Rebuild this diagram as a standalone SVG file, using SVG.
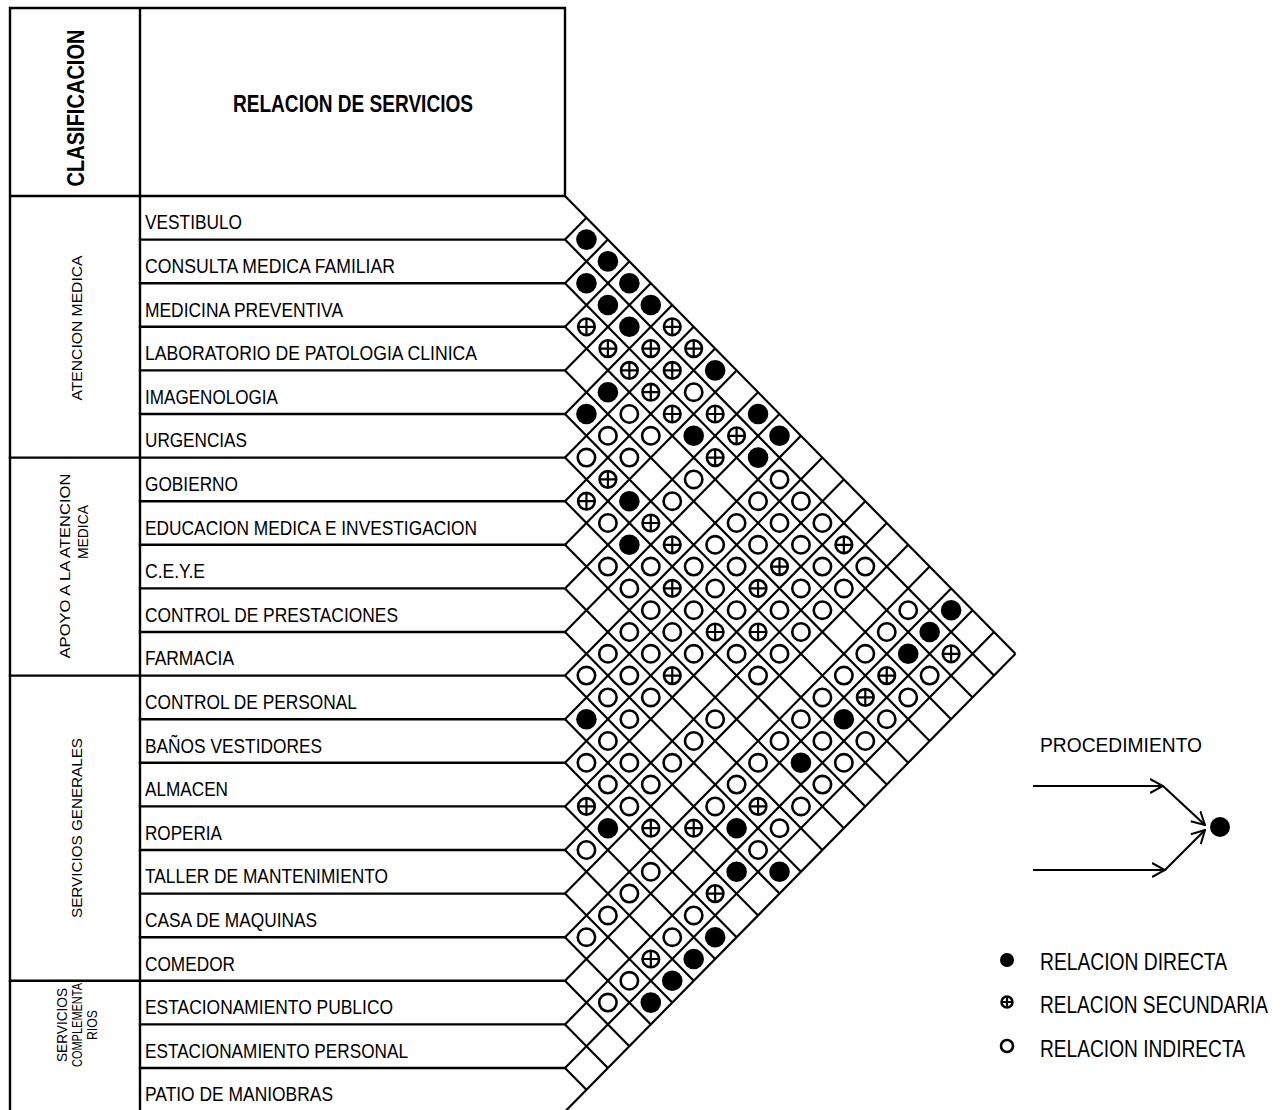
<svg xmlns="http://www.w3.org/2000/svg" xmlns:xlink="http://www.w3.org/1999/xlink" width="1286" height="1110" viewBox="0 0 1286 1110">
<style>
.ln{stroke:#000;stroke-width:2.4;fill:none;stroke-linecap:square}
.gd{stroke:#000;stroke-width:2.2;fill:none}
.t{font-family:"Liberation Sans",Arial,sans-serif;font-size:21px;fill:#000}
.tb{font-family:"Liberation Sans",Arial,sans-serif;font-size:23px;font-weight:bold;fill:#000}
.ts{font-family:"Liberation Sans",Arial,sans-serif;font-size:15px;fill:#000}
.tl{font-family:"Liberation Sans",Arial,sans-serif;font-size:20px;fill:#000}
.ar{stroke:#000;stroke-width:2.2;fill:none}
</style>
<defs>
<g id="sB"><circle r="10.3" fill="#000"/></g>
<g id="sO"><circle r="8.7" fill="#fff" stroke="#000" stroke-width="2.6"/></g>
<g id="sP"><circle r="8.3" fill="#fff" stroke="#000" stroke-width="2.6"/><path d="M-8.3,0H8.3M0,-8.3V8.3" stroke="#000" stroke-width="2.2"/></g>
<marker id="ah" viewBox="0 0 14 16" refX="13" refY="8" markerWidth="14" markerHeight="16" markerUnits="userSpaceOnUse" orient="auto"><path d="M0,1 L13,8 L0,15" fill="none" stroke="#000" stroke-width="2"/></marker>
</defs>
<rect width="1286" height="1110" fill="#fff"/>

<g id="table">
<path class="ln" d="M10,8H565V196M10,8V1112M140,8V1112M10,196H565"/>
<path class="ln" d="M140,239.6H565M140,283.2H565M140,326.8H565M140,370.4H565M140,414H565M10,457.6H565M140,501.2H565M140,544.8H565M140,588.4H565M140,632H565M10,675.6H565M140,719.2H565M140,762.8H565M140,806.4H565M140,850H565M140,893.6H565M140,937.2H565M10,980.8H565M140,1024.4H565M140,1068H565"/>
</g>

<g id="header">
<text class="tb" transform="translate(84,108) rotate(-90)" text-anchor="middle" textLength="157" lengthAdjust="spacingAndGlyphs">CLASIFICACION</text>
<text class="tb" x="353" y="112" text-anchor="middle" textLength="240" lengthAdjust="spacingAndGlyphs">RELACION DE SERVICIOS</text>
</g>

<g id="sections">
<text class="ts" transform="translate(82,328) rotate(-90)" text-anchor="middle" textLength="145" lengthAdjust="spacingAndGlyphs">ATENCION MEDICA</text>
<text class="ts" transform="translate(70,566) rotate(-90)" text-anchor="middle" textLength="185" lengthAdjust="spacingAndGlyphs">APOYO A LA ATENCION</text>
<text class="ts" transform="translate(88,532) rotate(-90)" text-anchor="middle" textLength="54" lengthAdjust="spacingAndGlyphs">MEDICA</text>
<text class="ts" transform="translate(82,828) rotate(-90)" text-anchor="middle" textLength="180" lengthAdjust="spacingAndGlyphs">SERVICIOS GENERALES</text>
<text class="ts" transform="translate(67,1025) rotate(-90)" text-anchor="middle" textLength="74" lengthAdjust="spacingAndGlyphs">SERVICIOS</text>
<text class="ts" transform="translate(82,1025) rotate(-90)" text-anchor="middle" textLength="84" lengthAdjust="spacingAndGlyphs">COMPLEMENTA</text>
<text class="ts" transform="translate(97,1025) rotate(-90)" text-anchor="middle" textLength="30" lengthAdjust="spacingAndGlyphs">RIOS</text>
</g>

<g id="rows">
<g id="r0"><text class="t" x="145" y="229.3" textLength="97" lengthAdjust="spacingAndGlyphs">VESTIBULO</text></g>
<g id="r1"><text class="t" x="145" y="272.9" textLength="250" lengthAdjust="spacingAndGlyphs">CONSULTA MEDICA FAMILIAR</text></g>
<g id="r2"><text class="t" x="145" y="316.5" textLength="198" lengthAdjust="spacingAndGlyphs">MEDICINA PREVENTIVA</text></g>
<g id="r3"><text class="t" x="145" y="360.1" textLength="332" lengthAdjust="spacingAndGlyphs">LABORATORIO DE PATOLOGIA CLINICA</text></g>
<g id="r4"><text class="t" x="145" y="403.7" textLength="133" lengthAdjust="spacingAndGlyphs">IMAGENOLOGIA</text></g>
<g id="r5"><text class="t" x="145" y="447.3" textLength="102" lengthAdjust="spacingAndGlyphs">URGENCIAS</text></g>
<g id="r6"><text class="t" x="145" y="490.9" textLength="93" lengthAdjust="spacingAndGlyphs">GOBIERNO</text></g>
<g id="r7"><text class="t" x="145" y="534.5" textLength="332" lengthAdjust="spacingAndGlyphs">EDUCACION MEDICA E INVESTIGACION</text></g>
<g id="r8"><text class="t" x="145" y="578.1" textLength="60" lengthAdjust="spacingAndGlyphs">C.E.Y.E</text></g>
<g id="r9"><text class="t" x="145" y="621.7" textLength="253" lengthAdjust="spacingAndGlyphs">CONTROL DE PRESTACIONES</text></g>
<g id="r10"><text class="t" x="145" y="665.3" textLength="89" lengthAdjust="spacingAndGlyphs">FARMACIA</text></g>
<g id="r11"><text class="t" x="145" y="708.9" textLength="212" lengthAdjust="spacingAndGlyphs">CONTROL DE PERSONAL</text></g>
<g id="r12"><text class="t" x="145" y="752.5" textLength="177" lengthAdjust="spacingAndGlyphs">BAÑOS VESTIDORES</text></g>
<g id="r13"><text class="t" x="145" y="796.1" textLength="83" lengthAdjust="spacingAndGlyphs">ALMACEN</text></g>
<g id="r14"><text class="t" x="145" y="839.7" textLength="77" lengthAdjust="spacingAndGlyphs">ROPERIA</text></g>
<g id="r15"><text class="t" x="145" y="883.3" textLength="243" lengthAdjust="spacingAndGlyphs">TALLER DE MANTENIMIENTO</text></g>
<g id="r16"><text class="t" x="145" y="926.9" textLength="172" lengthAdjust="spacingAndGlyphs">CASA DE MAQUINAS</text></g>
<g id="r17"><text class="t" x="145" y="970.5" textLength="90" lengthAdjust="spacingAndGlyphs">COMEDOR</text></g>
<g id="r18"><text class="t" x="145" y="1014.1" textLength="248" lengthAdjust="spacingAndGlyphs">ESTACIONAMIENTO PUBLICO</text></g>
<g id="r19"><text class="t" x="145" y="1057.7" textLength="263" lengthAdjust="spacingAndGlyphs">ESTACIONAMIENTO PERSONAL</text></g>
<g id="r20"><text class="t" x="145" y="1101.3" textLength="188" lengthAdjust="spacingAndGlyphs">PATIO DE MANIOBRAS</text></g>
</g>

<g id="grid">
<path class="gd" d="M565,196L1015.45,653.8M565,239.6L994,675.6M565,283.2L972.55,697.4M565,326.8L951.1,719.2M565,370.4L929.65,741M565,414L908.2,762.8M565,457.6L886.75,784.6M565,501.2L865.3,806.4M565,544.8L843.85,828.2M565,588.4L822.4,850M565,632L800.95,871.8M565,675.6L779.5,893.6M565,719.2L758.05,915.4M565,762.8L736.6,937.2M565,806.4L715.15,959M565,850L693.7,980.8M565,893.6L672.25,1002.6M565,937.2L650.8,1024.4M565,980.8L629.35,1046.2M565,1024.4L607.9,1068M565,1068L586.45,1089.8"/>
<path class="gd" d="M565,239.6L586.45,217.8M565,283.2L607.9,239.6M565,326.8L629.35,261.4M565,370.4L650.8,283.2M565,414L672.25,305M565,457.6L693.7,326.8M565,501.2L715.15,348.6M565,544.8L736.6,370.4M565,588.4L758.05,392.2M565,632L779.5,414M565,675.6L800.95,435.8M565,719.2L822.4,457.6M565,762.8L843.85,479.4M565,806.4L865.3,501.2M565,850L886.75,523M565,893.6L908.2,544.8M565,937.2L929.65,566.6M565,980.8L951.1,588.4M565,1024.4L972.55,610.2M565,1068L994,632M565,1111.6L1015.45,653.8"/>
</g>

<g id="matrix">
<use href="#sB" x="586.45" y="239.6"/><use href="#sB" x="607.9" y="261.4"/><use href="#sB" x="586.45" y="283.2"/><use href="#sB" x="629.35" y="283.2"/><use href="#sB" x="607.9" y="305"/><use href="#sB" x="650.8" y="305"/><use href="#sB" x="629.35" y="326.8"/><use href="#sB" x="715.15" y="370.4"/><use href="#sB" x="607.9" y="392.2"/><use href="#sB" x="586.45" y="414"/><use href="#sB" x="758.05" y="414"/><use href="#sB" x="693.7" y="435.8"/><use href="#sB" x="779.5" y="435.8"/><use href="#sB" x="758.05" y="457.6"/><use href="#sB" x="629.35" y="501.2"/><use href="#sB" x="629.35" y="544.8"/><use href="#sB" x="951.1" y="610.2"/><use href="#sB" x="929.65" y="632"/><use href="#sB" x="908.2" y="653.8"/><use href="#sB" x="843.85" y="719.2"/><use href="#sB" x="586.45" y="719.2"/><use href="#sB" x="800.95" y="762.8"/><use href="#sB" x="607.9" y="828.2"/><use href="#sB" x="736.6" y="828.2"/><use href="#sB" x="736.6" y="871.8"/><use href="#sB" x="779.5" y="871.8"/><use href="#sB" x="715.15" y="937.2"/><use href="#sB" x="693.7" y="959"/><use href="#sB" x="672.25" y="980.8"/><use href="#sB" x="650.8" y="1002.6"/>
<use href="#sP" x="586.45" y="326.8"/><use href="#sP" x="672.25" y="326.8"/><use href="#sP" x="607.9" y="348.6"/><use href="#sP" x="650.8" y="348.6"/><use href="#sP" x="693.7" y="348.6"/><use href="#sP" x="629.35" y="370.4"/><use href="#sP" x="672.25" y="370.4"/><use href="#sP" x="650.8" y="392.2"/><use href="#sP" x="672.25" y="414"/><use href="#sP" x="715.15" y="414"/><use href="#sP" x="736.6" y="435.8"/><use href="#sP" x="715.15" y="457.6"/><use href="#sP" x="607.9" y="479.4"/><use href="#sP" x="586.45" y="501.2"/><use href="#sP" x="650.8" y="523"/><use href="#sP" x="672.25" y="544.8"/><use href="#sP" x="843.85" y="544.8"/><use href="#sP" x="779.5" y="566.6"/><use href="#sP" x="672.25" y="588.4"/><use href="#sP" x="758.05" y="588.4"/><use href="#sP" x="715.15" y="632"/><use href="#sP" x="758.05" y="632"/><use href="#sP" x="951.1" y="653.8"/><use href="#sP" x="672.25" y="675.6"/><use href="#sP" x="886.75" y="675.6"/><use href="#sP" x="865.3" y="697.4"/><use href="#sP" x="586.45" y="806.4"/><use href="#sP" x="758.05" y="806.4"/><use href="#sP" x="650.8" y="828.2"/><use href="#sP" x="693.7" y="828.2"/><use href="#sP" x="715.15" y="893.6"/><use href="#sP" x="650.8" y="959"/>
<use href="#sO" x="693.7" y="392.2"/><use href="#sO" x="629.35" y="414"/><use href="#sO" x="607.9" y="435.8"/><use href="#sO" x="650.8" y="435.8"/><use href="#sO" x="586.45" y="457.6"/><use href="#sO" x="629.35" y="457.6"/><use href="#sO" x="693.7" y="479.4"/><use href="#sO" x="779.5" y="479.4"/><use href="#sO" x="672.25" y="501.2"/><use href="#sO" x="758.05" y="501.2"/><use href="#sO" x="800.95" y="501.2"/><use href="#sO" x="607.9" y="523"/><use href="#sO" x="736.6" y="523"/><use href="#sO" x="779.5" y="523"/><use href="#sO" x="822.4" y="523"/><use href="#sO" x="715.15" y="544.8"/><use href="#sO" x="758.05" y="544.8"/><use href="#sO" x="800.95" y="544.8"/><use href="#sO" x="607.9" y="566.6"/><use href="#sO" x="650.8" y="566.6"/><use href="#sO" x="693.7" y="566.6"/><use href="#sO" x="736.6" y="566.6"/><use href="#sO" x="822.4" y="566.6"/><use href="#sO" x="865.3" y="566.6"/><use href="#sO" x="629.35" y="588.4"/><use href="#sO" x="715.15" y="588.4"/><use href="#sO" x="800.95" y="588.4"/><use href="#sO" x="843.85" y="588.4"/><use href="#sO" x="650.8" y="610.2"/><use href="#sO" x="693.7" y="610.2"/><use href="#sO" x="736.6" y="610.2"/><use href="#sO" x="779.5" y="610.2"/><use href="#sO" x="822.4" y="610.2"/><use href="#sO" x="908.2" y="610.2"/><use href="#sO" x="629.35" y="632"/><use href="#sO" x="672.25" y="632"/><use href="#sO" x="800.95" y="632"/><use href="#sO" x="886.75" y="632"/><use href="#sO" x="607.9" y="653.8"/><use href="#sO" x="650.8" y="653.8"/><use href="#sO" x="693.7" y="653.8"/><use href="#sO" x="736.6" y="653.8"/><use href="#sO" x="779.5" y="653.8"/><use href="#sO" x="865.3" y="653.8"/><use href="#sO" x="586.45" y="675.6"/><use href="#sO" x="629.35" y="675.6"/><use href="#sO" x="758.05" y="675.6"/><use href="#sO" x="843.85" y="675.6"/><use href="#sO" x="929.65" y="675.6"/><use href="#sO" x="607.9" y="697.4"/><use href="#sO" x="650.8" y="697.4"/><use href="#sO" x="822.4" y="697.4"/><use href="#sO" x="908.2" y="697.4"/><use href="#sO" x="629.35" y="719.2"/><use href="#sO" x="715.15" y="719.2"/><use href="#sO" x="800.95" y="719.2"/><use href="#sO" x="886.75" y="719.2"/><use href="#sO" x="607.9" y="741"/><use href="#sO" x="693.7" y="741"/><use href="#sO" x="779.5" y="741"/><use href="#sO" x="822.4" y="741"/><use href="#sO" x="865.3" y="741"/><use href="#sO" x="586.45" y="762.8"/><use href="#sO" x="629.35" y="762.8"/><use href="#sO" x="672.25" y="762.8"/><use href="#sO" x="758.05" y="762.8"/><use href="#sO" x="843.85" y="762.8"/><use href="#sO" x="607.9" y="784.6"/><use href="#sO" x="650.8" y="784.6"/><use href="#sO" x="736.6" y="784.6"/><use href="#sO" x="822.4" y="784.6"/><use href="#sO" x="629.35" y="806.4"/><use href="#sO" x="715.15" y="806.4"/><use href="#sO" x="800.95" y="806.4"/><use href="#sO" x="779.5" y="828.2"/><use href="#sO" x="586.45" y="850"/><use href="#sO" x="758.05" y="850"/><use href="#sO" x="650.8" y="871.8"/><use href="#sO" x="629.35" y="893.6"/><use href="#sO" x="607.9" y="915.4"/><use href="#sO" x="693.7" y="915.4"/><use href="#sO" x="586.45" y="937.2"/><use href="#sO" x="672.25" y="937.2"/><use href="#sO" x="629.35" y="980.8"/><use href="#sO" x="607.9" y="1002.6"/>
</g>

<g id="procedimiento">
<text class="t" x="1040" y="752" textLength="162" lengthAdjust="spacingAndGlyphs">PROCEDIMIENTO</text>
<circle id="dot" cx="1220" cy="827" r="10" fill="#000"/>
</g>

<g id="connectors">
<path class="ar" d="M1033,786H1163" marker-end="url(#ah)"/>
<path class="ar" d="M1163,786L1205,825" marker-end="url(#ah)"/>
<path class="ar" d="M1033,870H1165" marker-end="url(#ah)"/>
<path class="ar" d="M1165,870L1205,830" marker-end="url(#ah)"/>
</g>

<g id="legend">
<g id="lg1"><circle cx="1007" cy="960" r="7" fill="#000"/><text class="tl" transform="translate(1040,970) scale(1,1.15)" textLength="187" lengthAdjust="spacingAndGlyphs">RELACION DIRECTA</text></g>
<g id="lg2"><circle cx="1007" cy="1002" r="5.5" fill="#fff" stroke="#000" stroke-width="2.5"/><path d="M1001.5,1002H1012.5M1007,996.5V1007.5" stroke="#000" stroke-width="2.2"/><text class="tl" transform="translate(1040,1013) scale(1,1.15)" textLength="228" lengthAdjust="spacingAndGlyphs">RELACION SECUNDARIA</text></g>
<g id="lg3"><circle cx="1007" cy="1046" r="6" fill="#fff" stroke="#000" stroke-width="2.6"/><text class="tl" transform="translate(1040,1057) scale(1,1.15)" textLength="205" lengthAdjust="spacingAndGlyphs">RELACION INDIRECTA</text></g>
</g>
</svg>
